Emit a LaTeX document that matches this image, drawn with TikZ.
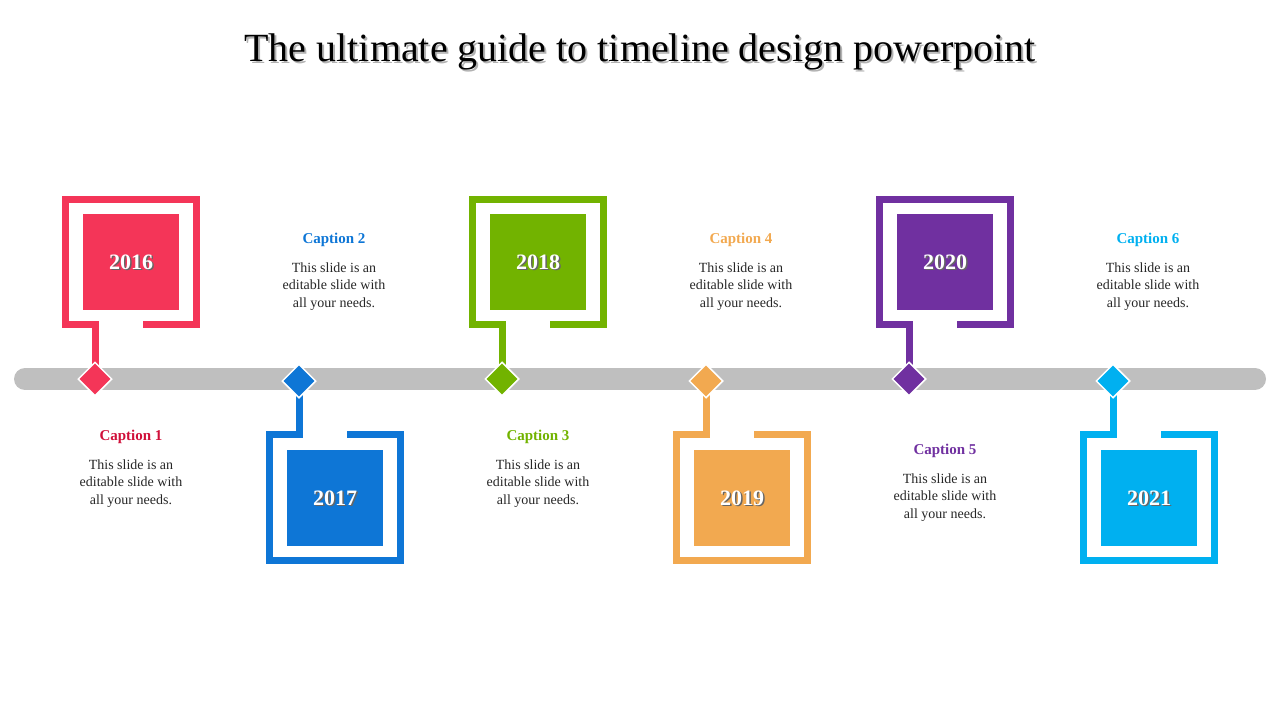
\documentclass[tikz,border=0pt]{standalone}
\usepackage{fontspec}
\setmainfont{Liberation Serif}
\usetikzlibrary{shapes.geometric}
\definecolor{cA}{HTML}{F43558}
\definecolor{cB}{HTML}{0E76D6}
\definecolor{cC}{HTML}{72B300}
\definecolor{cD}{HTML}{F2A950}
\definecolor{cE}{HTML}{7030A0}
\definecolor{cF}{HTML}{00B0F0}
\definecolor{capA}{HTML}{D0103A}
\definecolor{barc}{HTML}{BFBFBF}
\tikzset{
 frame/.style={line width=7pt,miter limit=10},
 yearbox/.style={minimum width=96pt,minimum height=96pt,inner sep=0pt,font=\fontsize{22}{24}\selectfont\bfseries,text=white},
 dia/.style={diamond,draw=white,line width=1.5pt,minimum width=34pt,minimum height=34pt,inner sep=0pt},
 captxt/.style={font=\fontsize{15}{17}\selectfont\bfseries},
 bodytxt/.style={font=\fontsize{14}{17.5}\selectfont,align=center,text=black!85}
}
\begin{document}
\begin{tikzpicture}[x=1pt,y=-1pt]
\useasboundingbox (0,0) rectangle (1280,720);
\node[font=\fontsize{40}{44}\selectfont,text=black!30] (tsh) at (642,54) {The ultimate guide to timeline design powerpoint};
\node[font=\fontsize{40}{44}\selectfont] (title) at (640,52) {The ultimate guide to timeline design powerpoint};
\draw[barc,line width=22pt,line cap=round] (25,379) -- (1255,379);
% top frames
\foreach \L/\c/\yr/\n in {62/cA/2016/a,469/cC/2018/c,876/cE/2020/e}{
 \draw[\c,frame] (\L+81,324.5) -- (\L+134.5,324.5) -- (\L+134.5,199.5) -- (\L+3.5,199.5) -- (\L+3.5,324.5) -- (\L+33,324.5) -- (\L+33,372);
 \node[yearbox,fill=\c] (y\n) at (\L+69,262) {};
 \node[yearbox,fill=none,text=black!60] at (\L+70.5,263.5) {\yr};
 \node[yearbox,fill=none] at (\L+69,262) {\yr};
 \node[dia,fill=\c] (d\n) at (\L+33,379) {};
}
% bottom frames
\foreach \L/\c/\yr/\n in {266/cB/2017/b,673/cD/2019/d,1080/cF/2021/f}{
 \draw[\c,frame] (\L+81,434.5) -- (\L+134.5,434.5) -- (\L+134.5,560.5) -- (\L+3.5,560.5) -- (\L+3.5,434.5) -- (\L+33,434.5) -- (\L+33,386);
 \node[yearbox,fill=\c] (y\n) at (\L+69,498) {};
 \node[yearbox,fill=none,text=black!60] at (\L+70.5,499.5) {\yr};
 \node[yearbox,fill=none] at (\L+69,498) {\yr};
 \node[dia,fill=\c] (d\n) at (\L+33,381) {};
}
% captions
\foreach \x/\y/\c/\t in {131/437/capA/Caption 1,334/240/cB/Caption 2,538/437/cC/Caption 3,741/240/cD/Caption 4,945/451/cE/Caption 5,1148/240/cF/Caption 6}{
 \node[captxt,text=\c] at (\x,\y) {\t};
 \node[bodytxt,anchor=north] at (\x,\y+19) {This slide is an\\editable slide with\\all your needs.};
}
\end{tikzpicture}
\end{document}
